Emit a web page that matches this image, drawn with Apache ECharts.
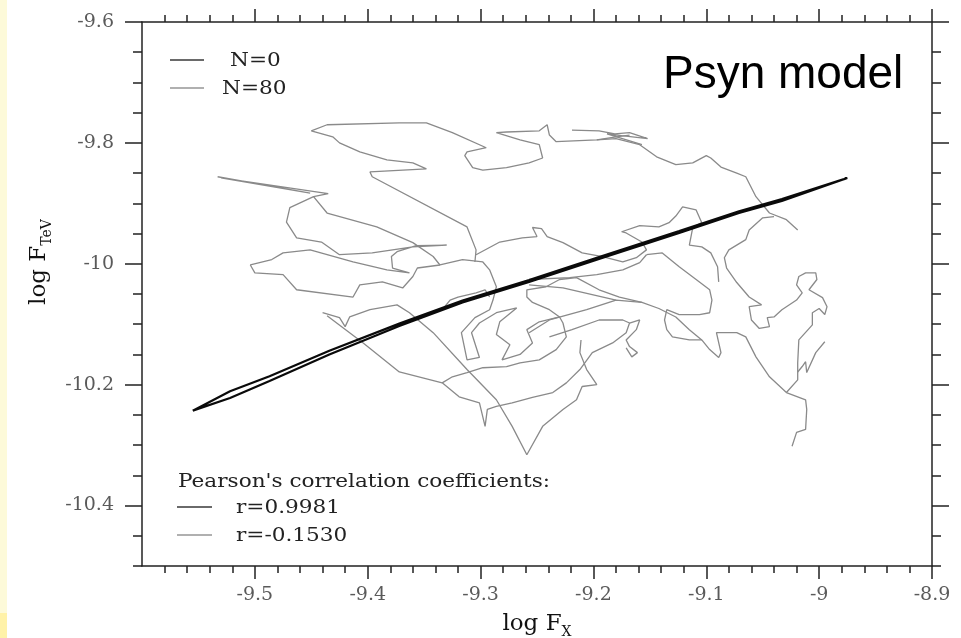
<!DOCTYPE html>
<html><head><meta charset="utf-8">
<script src="https://cdn.jsdelivr.net/npm/echarts@6/dist/echarts.min.js"></script>
<style>html,body{margin:0;padding:0;background:#fff;}#c{width:961px;height:638px;}</style>
</head><body><div id="c"></div>
<script>
// ---- tick labels ----
const xTicks = [-9.5, -9.4, -9.3, -9.2, -9.1, -9, -8.9];
const yTicks = [-10.4, -10.2, -10, -9.8, -9.6];

// ---- N=0 (black, thin closed loop) ----
const n0X = [-9.555,-9.522,-9.487,-9.434,-9.372,-9.316,-9.257,-9.195,-9.124,-9.071,-9.033,-8.975,
             -8.978,-9.033,-9.071,-9.124,-9.195,-9.257,-9.316,-9.372,-9.434,-9.487,-9.522,-9.555];
const n0Y = [-10.243,-10.222,-10.194,-10.150,-10.103,-10.064,-10.030,-9.992,-9.949,-9.916,-9.896,-9.858,
             -9.860,-9.893,-9.913,-9.946,-9.989,-10.027,-10.061,-10.099,-10.144,-10.186,-10.211,-10.243];

// ---- N=80 (grey random walk), null = pen up ----
const n80X = [
 -9.533,-9.451,-9.530,-9.435,-9.448,-9.469,-9.472,-9.463,-9.441,-9.425,-9.396,-9.360,-9.330,-9.357,-9.374,-9.379,-9.378,-9.363,-9.383,-9.413,-9.451,-9.475,-9.485,-9.504,-9.500,-9.475,-9.463,-9.413,-9.407,-9.387,-9.369,-9.360,-9.356,-9.336,-9.316,-9.298,-9.292,-9.286,-9.289,-9.292,-9.305,-9.317,-9.312,-9.301,-9.308,-9.301,-9.286,-9.268,-9.283,-9.286,-9.274,-9.281,-9.265,-9.254,-9.259,-9.248,-9.230,null,
 -9.448,-9.436,-9.392,-9.360,-9.342,-9.336,null,
 -9.168,-9.180,-9.197,-9.233,-9.239,-9.241,-9.248,-9.277,-9.286,-9.265,-9.248,-9.245,-9.257,-9.277,-9.298,-9.307,-9.314,-9.312,-9.295,-9.325,-9.348,-9.372,-9.436,-9.450,-9.431,-9.425,-9.407,-9.383,-9.360,-9.348,-9.398,-9.396,-9.312,-9.304,-9.305,null,
 -9.219,-9.195,-9.181,-9.168,-9.152,-9.175,-9.188,-9.157,null,
 -9.197,-9.180,-9.159,-9.144,-9.127,-9.112,-9.100,-9.096,-9.087,-9.073,-9.065,-9.056,-9.044,-9.029,-9.019,null,
 -9.040,-9.050,-9.062,-9.065,-9.080,-9.084,-9.082,-9.073,-9.062,-9.051,-9.062,-9.060,-9.053,-9.044,-9.046,-9.040,-9.033,-9.020,-9.015,-9.020,-9.018,-9.012,-9.003,-9.002,-9.009,-8.997,-8.993,-8.995,-9.000,-9.006,-9.006,-9.018,-9.019,-9.019,-9.029,-9.012,-9.011,-9.012,-9.020,-9.024,null,
 -9.019,-9.015,-9.012,-9.011,-9.003,-8.995,null,
 -9.029,-9.044,-9.056,-9.065,-9.073,-9.091,-9.087,-9.089,-9.097,-9.104,-9.115,-9.127,-9.142,-9.157,-9.177,-9.195,-9.215,-9.230,-9.242,-9.259,-9.259,-9.254,-9.239,-9.230,-9.227,-9.224,-9.233,-9.248,-9.265,-9.277,-9.298,-9.312,-9.325,-9.334,-9.319,-9.301,-9.296,-9.294,-9.286,-9.272,-9.254,-9.236,-9.224,-9.212,-9.201,-9.183,-9.171,-9.168,-9.174,-9.195,-9.219,-9.239,null,
 -9.168,-9.159,-9.162,-9.171,-9.168,-9.161,-9.166,-9.171,null,
 -9.304,-9.283,-9.263,-9.250,-9.254,-9.246,-9.241,-9.227,-9.210,-9.192,-9.174,-9.162,-9.153,-9.157,-9.171,-9.175,-9.159,-9.142,-9.133,-9.127,-9.121,-9.109,-9.104,-9.112,-9.115,-9.104,-9.096,-9.090,-9.089,null,
 -9.153,-9.139,-9.124,-9.109,-9.097,-9.095,-9.097,-9.106,-9.124,-9.135,-9.137,-9.135,-9.130,-9.115,-9.104,null,
 -9.257,-9.221,-9.197,-9.174,-9.159,-9.153,null,
 -9.440,-9.425,-9.420,-9.416,-9.398,-9.374,-9.363,-9.342,-9.312,-9.286,-9.272,-9.259,-9.245,-9.227,-9.215,-9.210,-9.197,-9.206,-9.212,-9.211,null,
 -9.436,-9.404,-9.372,-9.334,null,
 -9.257,-9.239,-9.206,-9.180,-9.157,null,
 -9.334,-9.327,-9.320,-9.304,-9.296,-9.292,null,
 -9.257,-9.227,-9.180
];
const n80Y = [
 -9.856,-9.883,-9.858,-9.884,-9.889,-9.907,-9.931,-9.957,-9.964,-9.985,-9.982,-9.972,-9.969,-9.970,-9.980,-9.988,-10.007,-10.015,-10.010,-9.997,-9.977,-9.982,-9.993,-10.002,-10.015,-10.018,-10.043,-10.055,-10.035,-10.030,-10.040,-10.021,-10.007,-10.002,-9.993,-9.997,-10.010,-10.038,-10.060,-10.076,-10.089,-10.114,-10.159,-10.155,-10.114,-10.098,-10.081,-10.073,-10.096,-10.117,-10.134,-10.159,-10.150,-10.131,-10.109,-10.096,-10.088,null,
 -9.889,-9.916,-9.939,-9.965,-9.988,-10.002,null,
 -9.787,-9.790,-9.795,-9.798,-9.787,-9.770,-9.780,-9.782,-9.783,-9.795,-9.803,-9.825,-9.833,-9.841,-9.845,-9.841,-9.821,-9.815,-9.808,-9.783,-9.767,-9.767,-9.770,-9.780,-9.790,-9.800,-9.815,-9.828,-9.833,-9.843,-9.848,-9.856,-9.939,-9.977,-9.997,null,
 -9.779,-9.780,-9.785,-9.783,-9.793,-9.788,-9.785,-9.803,null,
 -9.795,-9.793,-9.803,-9.823,-9.836,-9.833,-9.821,-9.825,-9.840,-9.850,-9.856,-9.889,-9.916,-9.927,-9.944,null,
 -9.922,-9.924,-9.944,-9.960,-9.977,-9.990,-10.007,-10.031,-10.055,-10.068,-10.071,-10.093,-10.107,-10.104,-10.089,-10.088,-10.076,-10.060,-10.048,-10.035,-10.021,-10.015,-10.015,-10.026,-10.043,-10.056,-10.071,-10.084,-10.074,-10.081,-10.101,-10.126,-10.164,-10.192,-10.213,-10.225,-10.241,-10.274,-10.279,-10.302,null,
 -10.179,-10.170,-10.162,-10.180,-10.147,-10.129,null,
 -10.213,-10.187,-10.154,-10.121,-10.114,-10.114,-10.147,-10.155,-10.142,-10.126,-10.109,-10.088,-10.074,-10.064,-10.055,-10.043,-10.023,-10.026,-10.038,-10.043,-10.055,-10.064,-10.076,-10.088,-10.098,-10.121,-10.142,-10.159,-10.164,-10.170,-10.172,-10.180,-10.187,-10.197,-10.220,-10.230,-10.269,-10.241,-10.236,-10.230,-10.221,-10.213,-10.197,-10.175,-10.147,-10.131,-10.114,-10.098,-10.093,-10.093,-10.109,-10.121,null,
 -10.098,-10.093,-10.109,-10.126,-10.137,-10.147,-10.154,-10.139,null,
 -9.985,-9.964,-9.957,-9.955,-9.940,-9.942,-9.955,-9.965,-9.982,-9.988,-9.997,-9.990,-9.977,-9.964,-9.949,-9.947,-9.937,-9.939,-9.932,-9.921,-9.906,-9.911,-9.932,-9.940,-9.969,-9.972,-9.982,-10.005,-10.030,null,
 -9.985,-9.982,-10.005,-10.026,-10.043,-10.060,-10.081,-10.084,-10.084,-10.076,-10.093,-10.109,-10.121,-10.126,-10.126,null,
 -10.026,-10.023,-10.018,-10.010,-9.998,-9.985,null,
 -10.081,-10.089,-10.104,-10.088,-10.076,-10.068,-10.081,-10.114,-10.175,-10.225,-10.269,-10.316,-10.269,-10.241,-10.225,-10.203,-10.200,-10.175,-10.147,-10.126,null,
 -10.086,-10.131,-10.179,-10.197,null,
 -10.114,-10.093,-10.076,-10.060,-10.064,null,
 -10.076,-10.060,-10.055,-10.048,-10.043,-10.055,null,
 -10.035,-10.040,-10.060
];

const legendLabels = ['N=0', 'N=80'];
const corrTitle = "Pearson's correlation coefficients:";
const corrLabels = ['r=0.9981', 'r=-0.1530'];

// ---- build ----
function strands(xs, ys) {
  const out = []; let cur = [];
  xs.forEach((x, i) => {
    if (x === null) { if (cur.length) out.push(cur); cur = []; }
    else cur.push([x, ys[i]]);
  });
  if (cur.length) out.push(cur);
  return out;
}
const serif = "'DejaVu Serif', serif";
const axisCol = '#222';
const fmt = v => String(Math.round(v * 100) / 100);

const grey = strands(n80X, n80Y).map(d => ({
  type: 'line', name: 'N=80', data: d, xAxisIndex: 0, yAxisIndex: 0,
  symbol: 'none', showSymbol: false, silent: true, z: 2,
  lineStyle: { color: '#8a8a8a', width: 1.3 }
}));
const black = {
  type: 'line', name: 'N=0', data: n0X.map((x, i) => [x, n0Y[i]]),
  xAxisIndex: 0, yAxisIndex: 0, symbol: 'none', showSymbol: false, silent: true, z: 3,
  lineStyle: { color: '#0a0a0a', width: 2.2 }
};

function xAx(pos, main) {
  return {
    type: 'value', position: pos, min: -9.6, max: -8.9, interval: 0.1,
    axisLine: { show: true, onZero: false, lineStyle: { color: axisCol, width: 1.5 } },
    axisTick: { show: true, inside: false, length: 13, customValues: xTicks, lineStyle: { color: axisCol, width: 1.5 } },
    minorTick: { show: true, splitNumber: 5, length: 7, lineStyle: { color: axisCol, width: 1.5 } },
    splitLine: { show: false }, minorSplitLine: { show: false },
    axisLabel: main ? { show: true, customValues: xTicks, formatter: fmt, margin: 20,
      fontFamily: serif, fontSize: 19, color: '#5a5a5a' } : { show: false },
    name: main ? '{a|log F}{b|X}' : '', nameLocation: 'middle', nameGap: 43,
    nameTextStyle: { rich: {
      a: { fontFamily: serif, fontSize: 23, color: '#111' },
      b: { fontFamily: serif, fontSize: 14, color: '#111', padding: [16, 0, 0, 0] } } }
  };
}
function yAx(pos, longTicks, labels) {
  return {
    type: 'value', position: pos, min: -10.5, max: -9.6, interval: 0.05,
    axisLine: { show: !longTicks, onZero: false, lineStyle: { color: axisCol, width: 1.5 } },
    axisTick: longTicks
      ? { show: true, inside: false, length: 17, customValues: yTicks, lineStyle: { color: axisCol, width: 1.5 } }
      : { show: true, inside: false, length: 9, lineStyle: { color: axisCol, width: 1.5 } },
    splitLine: { show: false },
    axisLabel: labels ? { show: true, customValues: yTicks, formatter: fmt, margin: 28,
      fontFamily: serif, fontSize: 19, color: '#5a5a5a' } : { show: false },
    name: labels ? '{a|log F}{b|TeV}' : '', nameLocation: 'middle', nameRotate: 90, nameGap: 86,
    nameTextStyle: { padding: [0, 0, 0, 64], rich: {
      a: { fontFamily: serif, fontSize: 23, color: '#111' },
      b: { fontFamily: serif, fontSize: 14, color: '#111', padding: [16, 0, 0, 0] } } }
  };
}

const txt = (x, y, text, extra) => ({
  type: 'text', x: x, y: y, scaleX: 1.2, silent: true,
  style: Object.assign({ text: text, fontFamily: serif, fontSize: 18, fill: '#222',
    align: 'left', verticalAlign: 'middle' }, extra || {})
});
const seg = (x1, x2, y, c) => ({
  type: 'line', silent: true, shape: { x1: x1, y1: y, x2: x2, y2: y },
  style: { stroke: c, lineWidth: 2 }
});

const option = {
  animation: false,
  backgroundColor: '#ffffff',
  grid: { left: 142, right: 29, top: 22, bottom: 72, containLabel: false, outerBoundsMode: 'none' },
  xAxis: [xAx('bottom', true), xAx('top', false)],
  yAxis: [yAx('left', false, false), yAx('left', true, true), yAx('right', false, false), yAx('right', true, false)],
  series: grey.concat([black]),
  graphic: [
    { type: 'rect', silent: true, shape: { x: 0, y: 0, width: 7, height: 613 }, style: { fill: '#fdfad9' } },
    { type: 'rect', silent: true, shape: { x: 0, y: 613, width: 7, height: 25 }, style: { fill: '#fff2a8' } },
    seg(170, 204, 60, '#6a6a6a'), txt(230, 61, legendLabels[0]),
    seg(170, 204, 88, '#b0b0b0'), txt(222, 89, legendLabels[1]),
    { type: 'text', x: 663, y: 75, silent: true,
      style: { text: 'Psyn model', fontFamily: "'Liberation Sans', Arial, sans-serif", fontSize: 46,
        fill: '#000', align: 'left', verticalAlign: 'middle' } },
    txt(178, 482, corrTitle),
    seg(177, 212, 507, '#6a6a6a'), txt(236, 508, corrLabels[0]),
    seg(177, 212, 535, '#b0b0b0'), txt(236, 536, corrLabels[1])
  ]
};
const chart = echarts.init(document.getElementById('c'));
chart.setOption(option);
</script>
</body></html>
